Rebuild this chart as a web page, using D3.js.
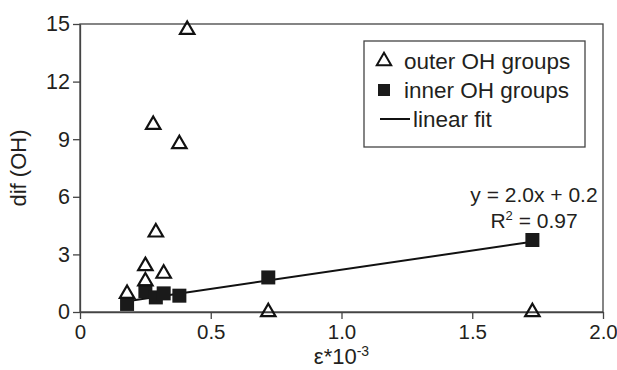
<!DOCTYPE html>
<html>
<head>
<meta charset="utf-8">
<script src="https://cdn.jsdelivr.net/npm/d3@7"></script>
<style>
  body { margin: 0; background: #fff; }
  text { font-family: "Liberation Sans", Arial, sans-serif; fill: #231f20; }
</style>
</head>
<body>
<div class="container"></div>
<script>
// data
var outerX = [0.18, 0.25, 0.25, 0.28, 0.29, 0.32, 0.38, 0.41, 0.72, 1.73];
var outerY = [0.95, 2.4, 1.6, 9.75, 4.15, 2.0, 8.75, 14.7, 0, 0];
var innerX = [0.18, 0.25, 0.29, 0.32, 0.38, 0.72, 1.73];
var innerY = [0.42, 1.08, 0.76, 0.97, 0.85, 1.8, 3.75];
var fitParams = [2.0, 0.2]; // slope, intercept
var xTicks = [0, 0.5, 1.0, 1.5, 2.0];
var yTicks = [0, 3, 6, 9, 12, 15];
var legendLabels = ["outer OH groups", "inner OH groups", "linear fit"];

var W = 617, H = 370;
var plot = { left: 80, right: 603, top: 24, bottom: 312 };

var svg = d3.select(".container").append("svg")
    .attr("width", W)
    .attr("height", H);

var x = d3.scaleLinear().domain([0, 2]).range([plot.left, plot.right]);
var y = d3.scaleLinear().domain([0, 15]).range([plot.bottom, plot.top]);

//frame
svg.append("rect")
    .attr("x", plot.left).attr("y", plot.top)
    .attr("width", plot.right - plot.left)
    .attr("height", plot.bottom - plot.top)
    .style("fill", "none")
    .style("stroke", "#444")
    .style("stroke-width", 1.3);

//axes
var xAxis = svg.append("g")
    .attr("transform", "translate(0," + plot.bottom + ")")
    .call(d3.axisBottom(x).tickValues(xTicks).tickSize(7).tickSizeOuter(0)
      .tickFormat(function (d) { return d === 0 ? "0" : d3.format(".1f")(d); }));
var yAxis = svg.append("g")
    .attr("transform", "translate(" + plot.left + ",0)")
    .call(d3.axisLeft(y).tickValues(yTicks).tickSize(7).tickSizeOuter(0));

[xAxis, yAxis].forEach(function (g) {
  g.select(".domain").style("stroke", "#444").style("stroke-width", 1.3);
  g.selectAll(".tick line").style("stroke", "#444").style("stroke-width", 1.3);
  g.selectAll(".tick text")
    .style("font-family", "'Liberation Sans', Arial, sans-serif")
    .style("font-size", "21.5px")
    .style("fill", "#231f20");
});
xAxis.selectAll(".tick text").attr("dy", "0.95em").attr("y", 8)
    .style("font-size", "20.5px");
yAxis.selectAll(".tick text").attr("x", -10);

//axis titles
svg.append("text")
    .attr("transform", "translate(26," + ((plot.top + plot.bottom) / 2) + ") rotate(-90)")
    .attr("text-anchor", "middle")
    .style("font-size", "22px")
    .text("dif (OH)");

var xt = svg.append("text")
    .attr("x", (plot.left + plot.right) / 2)
    .attr("y", 364)
    .attr("text-anchor", "middle")
    .style("font-size", "22px");
xt.append("tspan").text("ε*10");
xt.append("tspan").attr("dy", -8).style("font-size", "14px").text("-3");

//fit line over inner points range
var fitX = d3.extent(innerX);
var fitLine = d3.line()
    .x(function (d) { return x(d); })
    .y(function (d) { return y(fitParams[0] * d + fitParams[1]); });
svg.append("path")
    .datum(fitX)
    .attr("d", fitLine)
    .style("fill", "none")
    .style("stroke", "#111")
    .style("stroke-width", 2);

//inner squares
var sq = 14;
svg.selectAll("rect.inner")
    .data(innerX.map(function (d, i) { return [d, innerY[i]]; }))
    .enter().append("rect")
    .attr("class", "inner")
    .attr("x", function (d) { return x(d[0]) - sq / 2; })
    .attr("y", function (d) { return y(d[1]) - sq / 2; })
    .attr("width", sq).attr("height", sq)
    .style("fill", "#1a1a1a");

//outer triangles
var tri = d3.symbol().type(d3.symbolTriangle).size(90);
svg.selectAll("path.outer")
    .data(outerX.map(function (d, i) { return [d, outerY[i]]; }))
    .enter().append("path")
    .attr("class", "outer")
    .attr("transform", function (d) { return "translate(" + x(d[0]) + "," + y(d[1]) + ")"; })
    .attr("d", tri)
    .style("fill", "none")
    .style("stroke", "#111")
    .style("stroke-width", 2.2);

//equation
svg.append("text")
    .attr("x", 534).attr("y", 202)
    .attr("text-anchor", "middle")
    .style("font-size", "21px")
    .text("y = 2.0x + 0.2");
var r2 = svg.append("text")
    .attr("x", 534).attr("y", 228)
    .attr("text-anchor", "middle")
    .style("font-size", "21px");
r2.append("tspan").text("R");
r2.append("tspan").attr("dy", -8).style("font-size", "13px").text("2");
r2.append("tspan").attr("dy", 8).text(" = 0.97");

//legend
var leg = svg.append("g").attr("transform", "translate(364,41)");
leg.append("rect")
    .attr("width", 221).attr("height", 106)
    .style("fill", "#fff")
    .style("stroke", "#444")
    .style("stroke-width", 1.3);
var rowY = [20, 49, 78];
leg.selectAll("text.lab")
    .data(legendLabels)
    .enter().append("text")
    .attr("class", "lab")
    .attr("x", function (d, i) { return i === 2 ? 49 : 40; })
    .attr("y", function (d, i) { return rowY[i] + 8; })
    .style("font-size", "22.5px")
    .text(function (d) { return d; });
leg.append("path")
    .attr("transform", "translate(20," + rowY[0] + ")")
    .attr("d", tri)
    .style("fill", "none").style("stroke", "#111").style("stroke-width", 2);
leg.append("rect")
    .attr("x", 20 - 6).attr("y", rowY[1] - 6)
    .attr("width", 12).attr("height", 12)
    .style("fill", "#1a1a1a");
leg.append("line")
    .attr("x1", 16).attr("x2", 46)
    .attr("y1", rowY[2]).attr("y2", rowY[2])
    .style("stroke", "#111").style("stroke-width", 2);
</script>
</body>
</html>
